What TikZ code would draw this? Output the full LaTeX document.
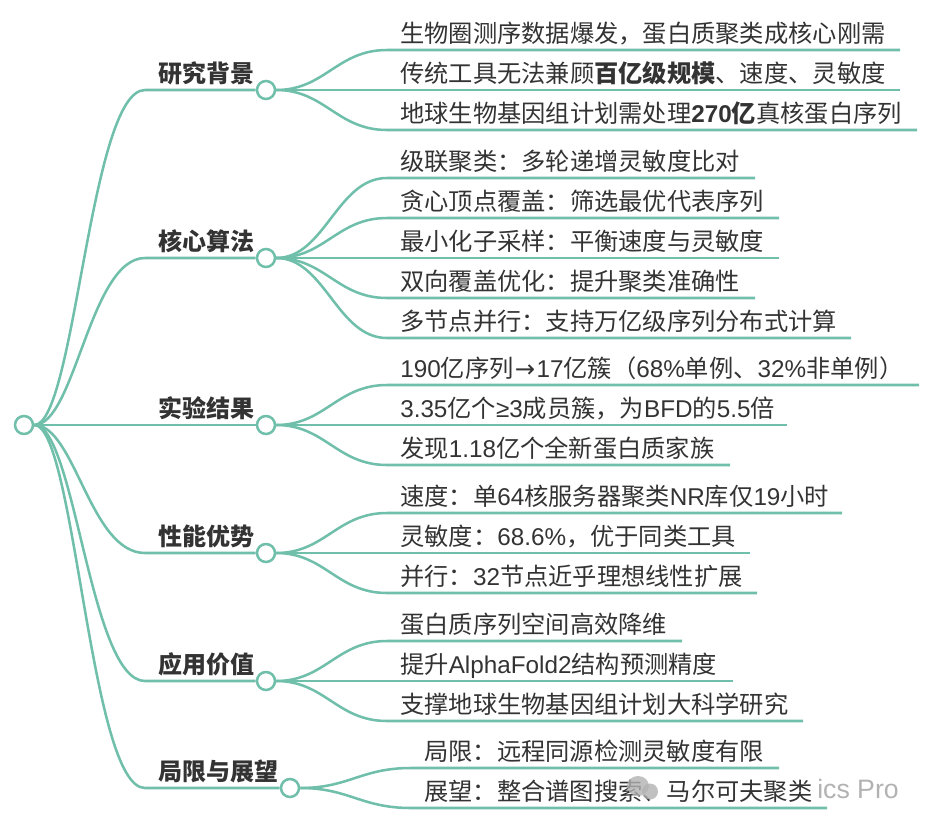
\documentclass[tikz,border=0pt]{standalone}
\usepackage{fontspec}
\setmainfont{Noto Sans CJK SC}
\newfontfamily\latfont{Liberation Sans}
\newfontfamily\arrowfont{DejaVu Sans}
\newcommand{\lat}[1]{{\latfont #1}}
\definecolor{linegreen}{HTML}{70BFAA}
\definecolor{textgray}{HTML}{333333}
\tikzset{
  branch/.style={draw=linegreen, line width=1.9pt},
  dot/.style={circle, draw=linegreen, line width=1.9pt, fill=white, minimum size=13.5pt, inner sep=0pt},
  leaf/.style={anchor=base west, inner sep=0pt, text=textgray, font=\fontsize{18.2}{18}\selectfont},
  head/.style={anchor=base west, inner sep=0pt, text=textgray, font=\fontsize{18}{18}\selectfont\bfseries},
}
\begin{document}
\begin{tikzpicture}[x=0.75pt, y=-0.75pt]
  \useasboundingbox (0,0) rectangle (926,826);

  % root and the six topics
  \node[dot] (root) at (24,425) {};
  \foreach \name/\ty/\tx/\title in {
    bg/90/266/研究背景, alg/258/266/核心算法, res/425/266/实验结果,
    perf/553/266/性能优势, app/681/266/应用价值, lim/788/290/局限与展望} {
    \coordinate (\name bend) at (145,\ty);
    \node[dot] (\name) at (\tx,\ty) {};
    \node[head] (\name title) at (158,\ty-8) {\title};
    \draw[branch] (root.east) .. controls (75,425) and (90,\ty) .. (\name bend) -- (\name);
  }

  % leaves
  \foreach \parent/\px/\py/\lx/\ly/\lend/\ltext/\lname in {
    bg/275/90/400/50/900/{生物圈测序数据爆发，蛋白质聚类成核心刚需}/a,
    bg/275/90/400/90/900/{传统工具无法兼顾\textbf{百亿级规模}、速度、灵敏度}/b,
    bg/275/90/400/130/917/{地球生物基因组计划需处理\textbf{\lat{270}亿}真核蛋白序列}/c,
    alg/275/258/400/178/755/{级联聚类：多轮递增灵敏度比对}/a,
    alg/275/258/400/218/779/{贪心顶点覆盖：筛选最优代表序列}/b,
    alg/275/258/400/258/779/{最小化子采样：平衡速度与灵敏度}/c,
    alg/275/258/400/298/755/{双向覆盖优化：提升聚类准确性}/d,
    alg/275/258/400/338/851/{多节点并行：支持万亿级序列分布式计算}/e,
    res/275/425/400/385/919/{\lat{190}亿序列{\arrowfont\hspace{1pt}→\hspace{1pt}}\lat{17}亿簇（\lat{68\%}单例、\lat{32\%}非单例）}/a,
    res/275/425/400/425/787/{\lat{3.35}亿个\lat{≥3}成员簇，为\lat{BFD}的\lat{5.5}倍}/b,
    res/275/425/400/465/730/{发现\lat{1.18}亿个全新蛋白质家族}/c,
    perf/275/553/400/513/842/{速度：单\lat{64}核服务器聚类\lat{NR}库仅\lat{19}小时}/a,
    perf/275/553/400/553/750/{灵敏度：\lat{68.6\%}，优于同类工具}/b,
    perf/275/553/400/593/757/{并行：\lat{32}节点近乎理想线性扩展}/c,
    app/275/681/400/641/682/{蛋白质序列空间高效降维}/a,
    app/275/681/400/681/733/{提升\lat{AlphaFold2}结构预测精度}/b,
    app/275/681/400/721/803/{支撑地球生物基因组计划大科学研究}/c,
    lim/299/788/424/768/779/{局限：远程同源检测灵敏度有限}/a,
    lim/299/788/424/808/827/{展望：整合谱图搜索、马尔可夫聚类}/b} {
    \coordinate (\parent\lname in) at (\lx-13,\ly);
    \coordinate (\parent\lname end) at (\lend,\ly);
    \node[leaf] (\parent\lname) at (\lx,\ly-8) {\ltext};
    \draw[branch] (\parent.east) .. controls (\px+50,\py) and (\lx-63,\ly) .. (\parent\lname in) -- (\parent\lname end);
  }

  % watermark
  \fill[gray!60, opacity=.8] (638,786) ellipse (11 and 10);
  \fill[gray!60, opacity=.8] (650,791.5) ellipse (8 and 8);
  \node[anchor=base west, inner sep=0pt, text=gray!60, font=\fontsize{20}{20}\selectfont\latfont] (mark) at (817,798) {ics Pro};
\end{tikzpicture}
\end{document}
